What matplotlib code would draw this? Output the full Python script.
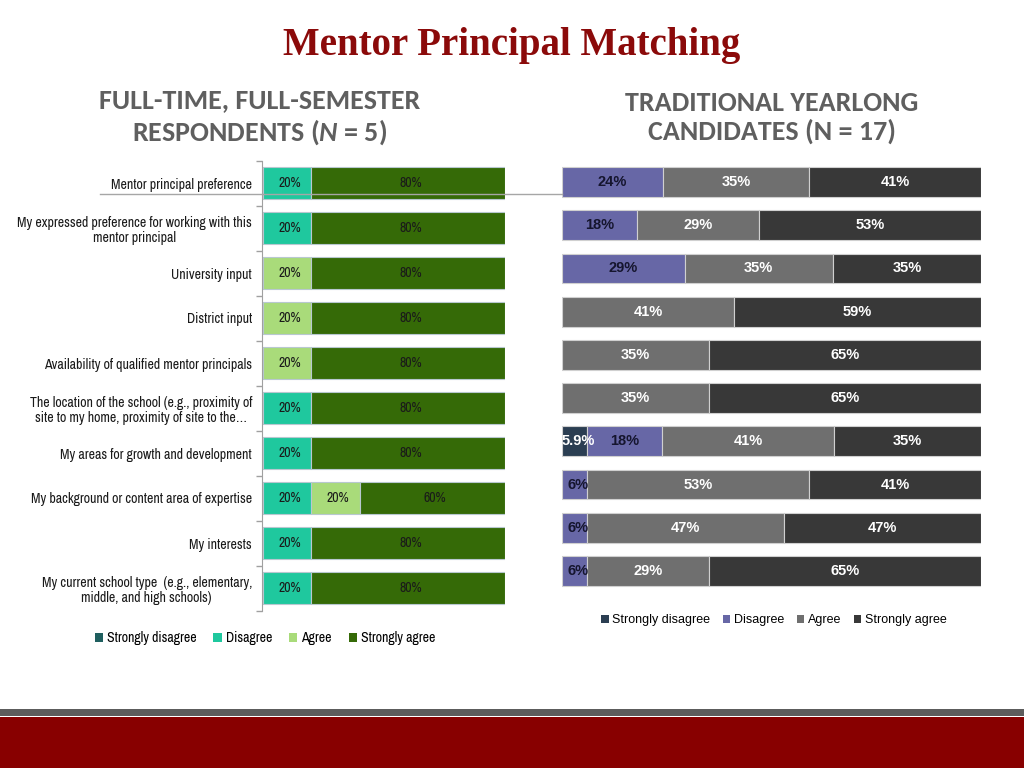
import matplotlib
matplotlib.use("Agg")
import matplotlib.pyplot as plt
import numpy as np
from matplotlib import font_manager as fm
from matplotlib.patches import Rectangle
from matplotlib.lines import Line2D

# ---------------- data ----------------
categories = [
    "Mentor principal preference",
    "My expressed preference for working with this\nmentor principal",
    "University input",
    "District input",
    "Availability of qualified mentor principals",
    "The location of the school (e.g., proximity of\nsite to my home, proximity of site to the\u2026",
    "My areas for growth and development",
    "My background or content area of expertise",
    "My interests",
    "My current school type  (e.g., elementary,\nmiddle, and high schools)",
]
series_names = ["Strongly disagree", "Disagree", "Agree", "Strongly agree"]

# Full-time, full-semester respondents (N = 5)
ft_strongly_disagree = [0, 0, 0, 0, 0, 0, 0, 0, 0, 0]
ft_disagree = [20, 20, 0, 0, 0, 20, 20, 20, 20, 20]
ft_agree = [0, 0, 20, 20, 20, 0, 0, 20, 0, 0]
ft_strongly_agree = [80, 80, 80, 80, 80, 80, 80, 60, 80, 80]

# Traditional yearlong candidates (N = 17)
ty_strongly_disagree = [0, 0, 0, 0, 0, 0, 5.9, 0, 0, 0]
ty_disagree = [24, 18, 29, 0, 0, 0, 18, 6, 6, 6]
ty_agree = [35, 29, 35, 41, 35, 35, 41, 53, 47, 29]
ty_strongly_agree = [41, 53, 35, 59, 65, 65, 35, 41, 47, 65]

title = "Mentor Principal Matching"

# ---------------- fonts ----------------
def pick(cands):
    for c in cands:
        try:
            fm.findfont(fm.FontProperties(family=c), fallback_to_default=False)
            return c
        except Exception:
            pass
    return "DejaVu Sans"

NARROW = pick(["Liberation Sans Narrow", "Arial Narrow", "Archivo Narrow", "PT Sans Narrow",
               "Roboto Condensed", "Liberation Sans"])
SANS = pick(["Liberation Sans", "Arimo", "DejaVu Sans"])
SERIF = pick(["Liberation Serif", "Tinos", "DejaVu Serif"])
CAL = pick(["Carlito", "Lato", "Open Sans"])

plt.rcParams["font.family"] = SANS
plt.rcParams["mathtext.fontset"] = "custom"
plt.rcParams["mathtext.it"] = f"{CAL}:italic:bold"
plt.rcParams["mathtext.rm"] = f"{CAL}:bold"

# ---------------- style ----------------
ft_colors = ["#1f5f5f", "#1fc89e", "#a9db7a", "#356a07"]
ty_colors = ["#2b3e52", "#6767a6", "#6f6f6f", "#383838"]
ty_label_colors = ["white", "#15152e", "white", "white"]

W, H = 1024, 768
fig = plt.figure(figsize=(W / 100, H / 100), dpi=100)

def fx(px):
    return px / W

def fy(py):
    return 1 - py / H

# bottom bands
fig.patches.append(Rectangle((0, fy(768)), 1, (768 - 717) / H, transform=fig.transFigure,
                             facecolor="#880000", edgecolor="none", zorder=0))
fig.patches.append(Rectangle((0, fy(716)), 1, (716 - 709) / H, transform=fig.transFigure,
                             facecolor="#5c5c5c", edgecolor="none", zorder=0))

# connector line
fig.lines.append(Line2D([fx(100), fx(562)], [fy(193.5), fy(193.5)], transform=fig.transFigure,
                        color="#a6a6a6", lw=1, zorder=0))

# titles
fig.text(0.5, fy(46), title, ha="center", va="center", fontsize=28, fontweight="bold",
         family=SERIF, color="#8b0a0a")
fig.text(fx(260), fy(117.5), "FULL-TIME, FULL-SEMESTER\nRESPONDENTS ($\\mathit{N}$ = 5)", ha="center",
         va="center", fontsize=20.2, fontweight="bold", family=CAL, color="#5f5f5f",
         linespacing=1.2)
fig.text(fx(772), fy(117.5), "TRADITIONAL YEARLONG\nCANDIDATES (N = 17)", ha="center",
         va="center", fontsize=20.2, fontweight="bold", family=CAL, color="#5f5f5f",
         linespacing=1.2)

n = len(categories)
y = np.arange(n)

# ---------------- left chart ----------------
axL = fig.add_axes([fx(263), fy(610.5), fx(505 - 263), (610.5 - 160.5) / H])
for s in ["top", "right", "bottom"]:
    axL.spines[s].set_visible(False)
axL.spines["left"].set_color("#a0a0a0")
axL.spines["left"].set_position(("outward", 1))

ft_data = [ft_strongly_disagree, ft_disagree, ft_agree, ft_strongly_agree]
left = np.zeros(n)
for vals, col in zip(ft_data, ft_colors):
    vals = np.array(vals, dtype=float)
    bars = axL.barh(y, vals, left=left, height=0.71, color=col, edgecolor="#b8c8d0", linewidth=0.8)
    for b, v in zip(bars, vals):
        if v > 0:
            axL.text(b.get_x() + b.get_width() / 2 + 1, b.get_y() + b.get_height() / 2, f"{v:.0f}%",
                     ha="center", va="center", fontsize=10, family=NARROW, color="#1a1a1a")
    left += vals
axL.set_xlim(0, 100)
axL.set_ylim(n - 0.5, -0.5)
axL.set_xticks([])
axL.set_yticks(np.arange(n + 1) - 0.5, minor=True)
axL.tick_params(axis="y", which="major", length=0, pad=7, labelsize=10,
                labelfontfamily=NARROW, labelcolor="#1a1a1a")
axL.tick_params(axis="y", which="minor", length=4, color="#a0a0a0", width=1)
axL.set_yticks(y)
axL.set_yticklabels(categories)
for lab in axL.get_yticklabels():
    lab.set_fontfamily(NARROW)
    lab.set_fontsize(10)
    lab.set_linespacing(1.15)
    lab.set_multialignment("center")

handlesL = [Rectangle((0, 0), 1, 1, facecolor=c, edgecolor="none") for c in ft_colors]
fig.legend(handlesL, series_names, loc="center", bbox_to_anchor=(fx(265), fy(638)), ncol=4,
           frameon=False, prop={"family": NARROW, "size": 10}, handlelength=0.6,
           handleheight=0.6, handletextpad=0.3, columnspacing=1.2)

# ---------------- right chart ----------------
axR = fig.add_axes([fx(562), fy(592.6), fx(981 - 562), (592.6 - 160.4) / H])
ty_data = [np.array(v, dtype=float) for v in
           [ty_strongly_disagree, ty_disagree, ty_agree, ty_strongly_agree]]
totals = sum(ty_data)
left = np.zeros(n)
for vals, col, lc in zip(ty_data, ty_colors, ty_label_colors):
    widths = vals / totals * 100
    bars = axR.barh(y, widths, left=left, height=0.69, color=col, edgecolor="#d0d0d0", linewidth=0.8)
    for b, v in zip(bars, vals):
        if v > 0:
            txt = f"{v:.1f}%" if v % 1 else f"{v:.0f}%"
            xc = b.get_x() + b.get_width() / 2
            if b.get_width() < 8:
                xc = b.get_x() + 3.8
            axR.text(xc, b.get_y() + b.get_height() / 2, txt, ha="center", va="center",
                     fontsize=10.5, fontweight="bold", family=SANS, color=lc)
    left += widths
axR.set_xlim(0, 100)
axR.set_ylim(n - 0.5, -0.5)
axR.axis("off")

handlesR = [Rectangle((0, 0), 1, 1, facecolor=c, edgecolor="none") for c in ty_colors]
fig.legend(handlesR, series_names, loc="center", bbox_to_anchor=(fx(774), fy(620)), ncol=4,
           frameon=False, prop={"family": SANS, "size": 9}, handlelength=0.6,
           handleheight=0.6, handletextpad=0.3, columnspacing=1.0)

fig.savefig("out.png", dpi=100)
